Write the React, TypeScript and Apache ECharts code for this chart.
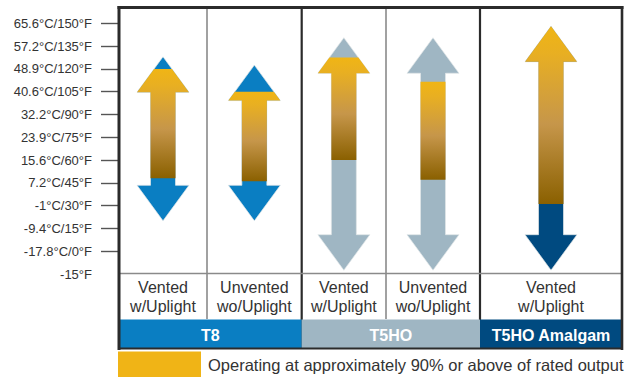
import React, { useEffect, useRef } from "react";
import * as echarts from "echarts";

// ---------- data ----------
const tempF = [150, 135, 120, 105, 90, 75, 60, 45, 30, 15, 0];
const tempC = ["65.6", "57.2", "48.9", "40.6", "32.2", "23.9", "15.6", "7.2", "-1", "-9.4", "-17.8"];
const axisBottomF = -15;

const configLabels = [
  "Vented\nw/Uplight",
  "Unvented\nwo/Uplight",
  "Vented\nw/Uplight",
  "Unvented\nwo/Uplight",
  "Vented\nw/Uplight",
];
const lampGroupOfColumn = [0, 0, 1, 1, 2];
const lampGroups = ["T8", "T5HO", "T5HO Amalgam"];

// arrow tips (°F) and operating range at ~90% output (°F)
const arrowTopF = [128, 122.5, 140.5, 140.5, 148];
const arrowBottomF = [20, 20, -12.5, -12.5, -12.5];
const operatingHighF = [120, 105, 127.5, 111.5, 148];
const operatingLowF = [48, 46, 60, 47, 31];

const legendText = "Operating at approximately 90% or above of rated output";

// ---------- layout / style ----------
const COLUMN_WIDTHS = [88, 94.7, 84.3, 94, 142];
const GROUP_COLORS = ["#0A7EC2", "#9FB6C3", "#004A80"];
const FONT = "'Liberation Sans', Arial, sans-serif";
const DARK = "#2B2B2B";
const GRAY = "#8A8A8A";
const HEAD_H = 35.5;
const HEAD_HW = 26;
const SHAFT_HW = 12.5;

const edges: number[] = [0];
COLUMN_WIDTHS.forEach((w, i) => edges.push(edges[i] + w));

const opGradient = {
  type: "linear",
  x: 0,
  y: 0,
  x2: 0,
  y2: 1,
  colorStops: [
    { offset: 0, color: "#F0B515" },
    { offset: 0.15, color: "#E8AF22" },
    { offset: 0.55, color: "#C6964A" },
    { offset: 1, color: "#8A6000" },
  ],
};

function rightOutline(yTop: number, yBot: number): number[][] {
  return [
    [0, yTop],
    [HEAD_HW, yTop + HEAD_H],
    [SHAFT_HW, yTop + HEAD_H],
    [SHAFT_HW, yBot - HEAD_H],
    [HEAD_HW, yBot - HEAD_H],
    [0, yBot],
  ];
}

function clipOutline(pts: number[][], y1: number, y2: number): number[][] {
  const out: number[][] = [];
  const push = (p: number[]) => {
    const last = out[out.length - 1];
    if (!last || Math.abs(last[0] - p[0]) > 1e-6 || Math.abs(last[1] - p[1]) > 1e-6) out.push(p);
  };
  for (let i = 0; i < pts.length - 1; i++) {
    const a = pts[i];
    const b = pts[i + 1];
    if (Math.abs(a[1] - b[1]) < 1e-9) {
      if (a[1] >= y1 - 1e-6 && a[1] <= y2 + 1e-6) {
        push(a);
        push(b);
      }
    } else {
      const ta = Math.max(a[1], y1);
      const tb = Math.min(b[1], y2);
      if (ta <= tb) {
        const xAt = (y: number) => a[0] + ((b[0] - a[0]) * (y - a[1])) / (b[1] - a[1]);
        push([xAt(ta), ta]);
        push([xAt(tb), tb]);
      }
    }
  }
  return out;
}

function toPolygon(cx: number, right: number[][]): number[][] {
  const r = right.map((p) => [cx + p[0], p[1]]);
  const l = right
    .slice()
    .reverse()
    .map((p) => [cx - p[0], p[1]]);
  return r.concat(l);
}

export default function App() {
  const ref = useRef<HTMLDivElement>(null);

  useEffect(() => {
    if (!ref.current) return;
    const chart = echarts.init(ref.current, undefined, { renderer: "svg" });

    const labelMap: Record<string, string> = {};
    tempF.forEach((f, i) => {
      labelMap[String(f)] = `${tempC[i]}°C/${f}°F`;
    });
    labelMap[String(axisBottomF)] = `${axisBottomF}°F`;

    const columnData = configLabels.map((_, i) => [
      edges[i],
      edges[i + 1],
      arrowTopF[i],
      arrowBottomF[i],
      operatingHighF[i],
      operatingLowF[i],
      lampGroupOfColumn[i],
      i,
    ]);

    const groupData = lampGroups.map((_, g) => {
      const cols = lampGroupOfColumn.map((gg, i) => (gg === g ? i : -1)).filter((i) => i >= 0);
      return [edges[cols[0]], edges[cols[cols.length - 1] + 1], g];
    });

    const option: any = {
      animation: false,
      grid: { left: 119, right: 9, top: 7.5, bottom: 103 },
      xAxis: {
        type: "value",
        min: 0,
        max: edges[edges.length - 1],
        show: false,
      },
      yAxis: {
        type: "value",
        min: -15,
        max: 160.4,
        interval: 15,
        axisLine: { show: false },
        splitLine: { show: false },
        axisTick: {
          show: true,
          length: 18,
          customValues: tempF,
          lineStyle: { color: "#555", width: 1.4 },
        },
        axisLabel: {
          show: true,
          customValues: [...tempF, axisBottomF],
          margin: 27,
          fontSize: 13,
          color: "#333",
          fontFamily: FONT,
          formatter: (v: number) => labelMap[String(v)] ?? "",
        },
      },
      series: [
        {
          type: "custom",
          name: "arrows",
          clip: false,
          data: columnData,
          renderItem: (params: any, api: any) => {
            const x0 = api.coord([api.value(0), 0])[0];
            const x1 = api.coord([api.value(1), 0])[0];
            const cx = (x0 + x1) / 2;
            const yTop = api.coord([0, api.value(2)])[1];
            const yBot = api.coord([0, api.value(3)])[1];
            const yOpH = api.coord([0, api.value(4)])[1];
            const yOpL = api.coord([0, api.value(5)])[1];
            const g = api.value(6);
            const idx = api.value(7);
            const gridTop = api.coord([0, 160.4])[1];
            const gridBottom = api.coord([0, -15])[1];
            const outline = rightOutline(yTop, yBot);
            const basePoly = toPolygon(cx, outline);
            const opPoly = toPolygon(cx, clipOutline(outline, yOpH, yOpL));
            const children: any[] = [
              {
                type: "polygon",
                shape: { points: basePoly },
                style: { fill: GROUP_COLORS[g], stroke: "rgba(225,230,232,0.9)", lineWidth: 0.8 },
              },
              {
                type: "polygon",
                shape: { points: opPoly },
                style: { fill: opGradient },
              },
              {
                type: "text",
                x: cx,
                y: gridBottom + 22.5,
                style: {
                  text: configLabels[idx],
                  align: "center",
                  verticalAlign: "middle",
                  fontSize: 16,
                  lineHeight: 19,
                  fill: "#333",
                  fontFamily: FONT,
                },
              },
            ];
            if (idx < configLabels.length - 1) {
              const groupEdge = lampGroupOfColumn[idx] !== lampGroupOfColumn[idx + 1];
              children.push({
                type: "line",
                shape: { x1: x1, y1: gridTop, x2: x1, y2: groupEdge ? gridBottom + 75 : gridBottom + 45 },
                style: { stroke: groupEdge ? DARK : GRAY, lineWidth: groupEdge ? 2.2 : 1.6 },
              });
            }
            return { type: "group", children };
          },
        },
        {
          type: "custom",
          name: "groups",
          clip: false,
          data: groupData,
          renderItem: (params: any, api: any) => {
            const x0 = api.coord([api.value(0), 0])[0];
            const x1 = api.coord([api.value(1), 0])[0];
            const g = api.value(2);
            const gridBottom = api.coord([0, -15])[1];
            const top = gridBottom + 45.5;
            return {
              type: "group",
              children: [
                {
                  type: "rect",
                  shape: { x: x0, y: top, width: x1 - x0, height: 29.5 },
                  style: { fill: GROUP_COLORS[g] },
                },
                {
                  type: "text",
                  x: (x0 + x1) / 2,
                  y: top + 15.5,
                  style: {
                    text: lampGroups[g],
                    align: "center",
                    verticalAlign: "middle",
                    fontSize: 16,
                    fontWeight: "bold",
                    fill: "#fff",
                    fontFamily: FONT,
                  },
                },
              ],
            };
          },
        },
      ],
      graphic: [
        // bottom line of plot area
        { type: "line", shape: { x1: 119, y1: 273.5, x2: 622, y2: 273.5 }, style: { stroke: GRAY, lineWidth: 1.4 }, z: 10 },
        // outer frame
        { type: "line", shape: { x1: 117.5, y1: 7.5, x2: 623.5, y2: 7.5 }, style: { stroke: DARK, lineWidth: 3 }, z: 10 },
        { type: "line", shape: { x1: 119, y1: 6, x2: 119, y2: 350 }, style: { stroke: DARK, lineWidth: 3 }, z: 10 },
        { type: "line", shape: { x1: 622, y1: 6, x2: 622, y2: 350 }, style: { stroke: DARK, lineWidth: 2.6 }, z: 10 },
        { type: "line", shape: { x1: 119, y1: 348.5, x2: 622, y2: 348.5 }, style: { stroke: DARK, lineWidth: 2 }, z: 10 },
        // legend
        { type: "rect", shape: { x: 118, y: 351.5, width: 83, height: 26 }, style: { fill: "#F0B416" } },
        {
          type: "text",
          x: 208,
          y: 364.5,
          style: {
            text: legendText,
            fontSize: 16.5,
            fill: "#333",
            fontFamily: FONT,
            verticalAlign: "middle",
          },
        },
      ],
    };

    chart.setOption(option);
    return () => chart.dispose();
  }, []);

  return (
    <div
      ref={ref}
      style={{ position: "fixed", left: 0, top: 0, width: 631, height: 377, background: "#fff" }}
    />
  );
}
